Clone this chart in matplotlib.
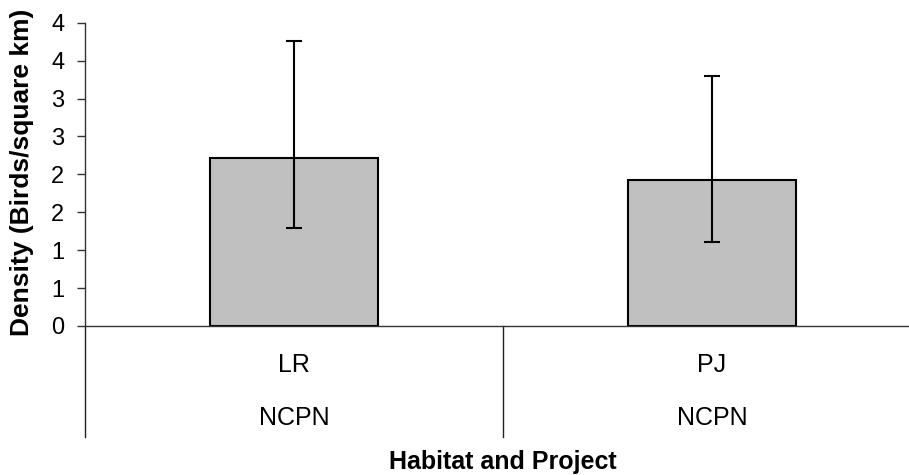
import numpy as np
import matplotlib
matplotlib.use("Agg")
import matplotlib.pyplot as plt
from matplotlib.ticker import FuncFormatter

plt.rcParams['font.family'] = ['Liberation Sans', 'DejaVu Sans']

# data
habitat = ['LR', 'PJ']
project = ['NCPN', 'NCPN']
density = np.array([2.22, 1.93])
upper_ci = np.array([3.76, 3.30])
lower_ci = np.array([1.29, 1.11])

W, H = 909, 475
fig = plt.figure(figsize=(W / 100, H / 100), dpi=100)

# plot area in pixels (right edge runs off the image, as in the original)
x0, x1 = 85, 921
y_zero, y_top = 326, 22.7
ax = fig.add_axes([x0 / W, 1 - y_zero / H, (x1 - x0) / W, (y_zero - y_top) / H])

x = np.arange(len(habitat))
yerr = np.vstack([density - lower_ci, upper_ci - density])
ax.bar(x, density, width=0.4, color='#C0C0C0', edgecolor='black', linewidth=1.5, zorder=2)
ax.errorbar(x, density, yerr=yerr, fmt='none', ecolor='black', elinewidth=1.5,
            capsize=5.8, capthick=1.5, zorder=3)

ax.set_xlim(-0.5, len(habitat) - 0.5)
ax.set_ylim(0, 4)
ax.set_yticks(np.arange(0, 4.01, 0.5))
ax.yaxis.set_major_formatter(FuncFormatter(lambda v, pos: f"{int(np.floor(v + 0.5))}"))
ax.tick_params(axis='y', direction='out', length=6, width=1, pad=9, labelsize=17, color='#333333')
ax.set_xticks([])

for s in ['top', 'right']:
    ax.spines[s].set_visible(False)
for s in ['left', 'bottom']:
    ax.spines[s].set_color('#333333')
    ax.spines[s].set_linewidth(1)

# category dividers below the axis
unit = (y_zero - y_top) / 4
y_low = -(437 - y_zero) / unit
for xb in np.arange(-0.5, len(habitat), 1.0):
    ax.plot([xb, xb], [0, y_low], color='#222222', lw=1, clip_on=False)

y_hab = -(365 - y_zero) / unit
y_proj = -(418 - y_zero) / unit
for xi, h, p in zip(x, habitat, project):
    ax.text(xi, y_hab, h, ha='center', va='center', fontsize=18, clip_on=False)
    ax.text(xi, y_proj, p, ha='center', va='center', fontsize=18, clip_on=False)

fig.text(503 / W, 1 - 462 / H, 'Habitat and Project', ha='center', va='center',
         fontsize=18, fontweight='bold')
fig.text(22 / W, 1 - 172 / H, 'Density (Birds/square km)', ha='center', va='center',
         rotation=90, fontsize=19, fontweight='bold')

fig.savefig('out.png', dpi=100)
